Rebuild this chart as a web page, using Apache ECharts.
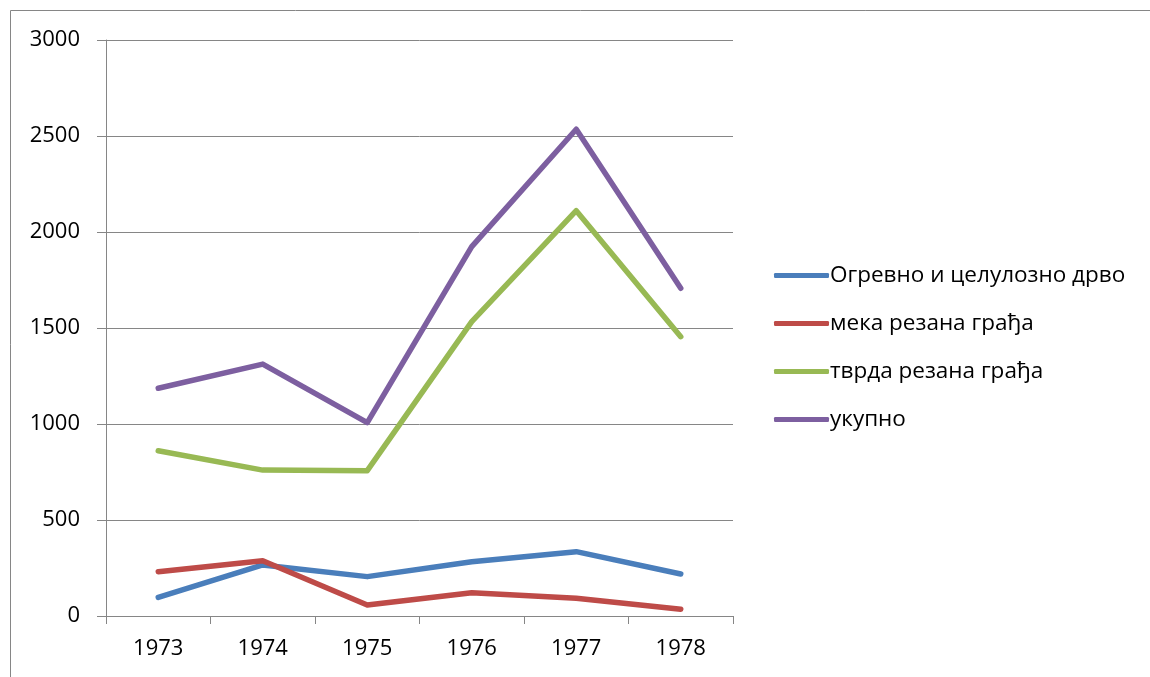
<!DOCTYPE html>
<html>
<head>
<meta charset="utf-8">
<script src="https://cdn.jsdelivr.net/npm/echarts@6/dist/echarts.min.js"></script>
<style>
html,body{margin:0;padding:0;background:#fff;}
#chart{width:1150px;height:677px;}
</style>
</head>
<body>
<div id="chart"></div>
<script>
var categories = ['1973', '1974', '1975', '1976', '1977', '1978'];
var seriesNames = ['Огревно и целулозно дрво', 'мека резана грађа', 'тврда резана грађа', 'укупно'];
var ogrevno = [97, 266, 205, 283, 335, 219];
var meka = [231, 288, 57, 121, 92, 35];
var tvrda = [861, 760, 757, 1533, 2111, 1455];
var ukupno = [1186, 1312, 1007, 1924, 2535, 1707];
var yTicks = [0, 500, 1000, 1500, 2000, 2500, 3000];
var colors = ['#4A7EBB', '#BE4B48', '#98B954', '#7D5FA0'];

var fontFam = '"Open Sans", "Noto Sans", sans-serif';
var chart = echarts.init(document.getElementById('chart'));
var data = [ogrevno, meka, tvrda, ukupno];
var series = data.map(function (d, i) {
  return {
    name: seriesNames[i],
    type: 'line',
    data: d,
    symbol: 'none',
    smooth: false,
    lineStyle: { width: 5.5, color: colors[i], cap: 'round', join: 'round' },
    itemStyle: { color: colors[i] },
    animation: false
  };
});
chart.setOption({
  animation: false,
  graphic: [{
    type: 'rect',
    shape: { x: 10.5, y: 10.5, width: 1200, height: 700 },
    style: { fill: 'none', stroke: '#868686', lineWidth: 1 }
  }],
  grid: { left: 106, right: 417, top: 40, bottom: 61 },
  legend: {
    orient: 'vertical',
    left: 769,
    top: 259,
    itemWidth: 55,
    itemHeight: 5,
    itemGap: 25,
    icon: 'roundRect',
    textStyle: { fontFamily: fontFam, fontSize: 22.5, color: '#000', padding: [0, 0, 0, -4] },
    data: seriesNames
  },
  xAxis: {
    type: 'category',
    data: categories,
    boundaryGap: true,
    axisLine: { lineStyle: { color: '#868686', width: 1 } },
    axisTick: { show: true, length: 8, alignWithLabel: false, lineStyle: { color: '#868686' } },
    axisLabel: { color: '#000', fontFamily: fontFam, fontSize: 22, margin: 22 },
    splitLine: { show: false }
  },
  yAxis: {
    type: 'value',
    min: yTicks[0],
    max: yTicks[yTicks.length - 1],
    interval: 500,
    axisLine: { show: true, lineStyle: { color: '#868686', width: 1 } },
    axisTick: { show: true, length: 9, lineStyle: { color: '#868686' } },
    axisLabel: { color: '#000', fontFamily: fontFam, fontSize: 22, margin: 26, formatter: function (v) { return String(v); } },
    splitLine: { show: true, lineStyle: { color: '#868686', width: 1 } }
  },
  series: series
});
</script>
</body>
</html>
